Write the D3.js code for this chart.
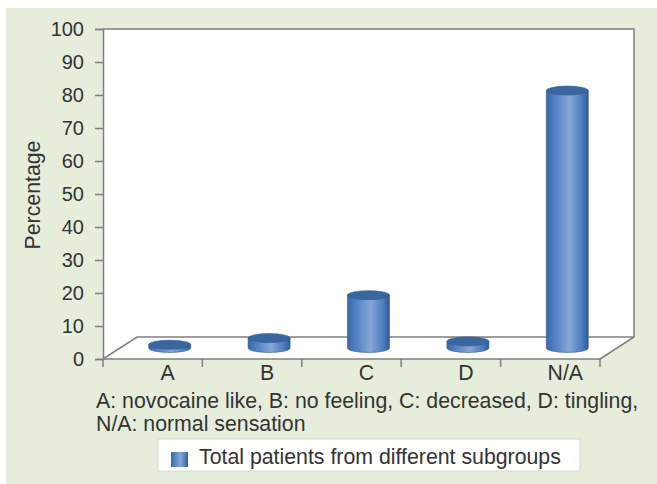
<!DOCTYPE html>
<html>
<head>
<meta charset="utf-8">
<script src="https://cdn.jsdelivr.net/npm/d3@7"></script>
<style>
  html, body { margin: 0; padding: 0; background: #ffffff; }
  svg { display: block; }
  text { font-family: "Liberation Sans", Arial, sans-serif; fill: #333; }
</style>
</head>
<body>
<svg id="chart" width="657" height="484"></svg>
<script>
// Sensation categories and their share of patients (%)
const categories = ["A", "B", "C", "D", "N/A"];
const values = [1, 3, 16, 2, 78];
const yTicks = [0, 10, 20, 30, 40, 50, 60, 70, 80, 90, 100];
const seriesName = "Total patients from different subgroups";
const captionLines = [
  "A: novocaine like, B: no feeling, C: decreased, D: tingling,",
  "N/A: normal sensation"
];

const svg = d3.select("#chart");
const W = 657, H = 484;
const fs = 21.3, tickFs = 20;

// panel background
svg.append("rect").attr("x", 6).attr("y", 8).attr("width", W - 6).attr("height", H - 8)
  .attr("fill", "#e6eedb");

// plot geometry (front-left origin, 3D depth offset)
const plotL = 103, plotR = 600, plotB = 359, plotT = 29;
const dx = 34, dy = 22;

const y = d3.scaleLinear().domain([0, 100]).range([plotB, plotT]);
const x = d3.scaleBand().domain(categories).range([plotL, plotR]);

// walls and floor
const wall = [[plotL, plotT], [plotR + dx, plotT], [plotR + dx, plotB - dy], [plotR, plotB], [plotL, plotB]];
svg.append("path").attr("d", d3.line()(wall) + "Z").attr("fill", "#ffffff");

const lineCol = "#7f7f7f";
svg.append("path")
  .attr("d", d3.line()([[plotL, plotT], [plotR + dx, plotT], [plotR + dx, plotB - dy], [plotR, plotB]]))
  .attr("fill", "none").attr("stroke", lineCol).attr("stroke-width", 1.5);
svg.append("path")
  .attr("d", d3.line()([[plotL, plotB], [plotL + dx, plotB - dy], [plotR + dx, plotB - dy]]))
  .attr("fill", "none").attr("stroke", lineCol).attr("stroke-width", 1.5);

// y axis
const yAxis = d3.axisLeft(y).tickValues(yTicks).tickSize(8).tickPadding(11);
const gy = svg.append("g").attr("transform", `translate(${plotL},0)`).call(yAxis);
gy.select(".domain").attr("stroke", lineCol).attr("stroke-width", 1.5);
gy.selectAll(".tick line").attr("stroke", lineCol).attr("stroke-width", 1.5);
gy.selectAll(".tick text").attr("font-size", tickFs).attr("fill", "#333")
  .style("font-family", "Liberation Sans, Arial, sans-serif");

// x axis (front edge of floor with ticks between categories)
const gx = svg.append("g").attr("transform", `translate(0,${plotB})`);
gx.append("line").attr("x1", plotL).attr("x2", plotR).attr("stroke", lineCol).attr("stroke-width", 1.5);
const bounds = categories.map(c => x(c)).concat([plotR]);
gx.selectAll("line.tk").data(bounds).join("line").attr("class", "tk")
  .attr("x1", d => d).attr("x2", d => d).attr("y1", 0).attr("y2", 8)
  .attr("stroke", lineCol).attr("stroke-width", 1.5);
gx.selectAll("text").data(categories).join("text")
  .attr("x", d => x(d) + x.bandwidth() / 2 + 15)
  .attr("y", 21)
  .attr("text-anchor", "middle").attr("font-size", fs)
  .text(d => d);

// y title
svg.append("text")
  .attr("transform", "translate(40,195) rotate(-90)")
  .attr("text-anchor", "middle").attr("font-size", fs)
  .text("Percentage");

// cylinder gradient
const defs = svg.append("defs");
const grad = defs.append("linearGradient").attr("id", "cyl").attr("x1", 0).attr("x2", 1).attr("y1", 0).attr("y2", 0);
[[0, "#3a66a6"], [0.15, "#4a7ac0"], [0.55, "#86a7d6"], [0.85, "#4b7bbf"], [1, "#2f5a96"]]
  .forEach(([o, c]) => grad.append("stop").attr("offset", o).attr("stop-color", c));

const rx = 21, ry = 4.5;
const bars = svg.append("g");
categories.forEach((c, i) => {
  const cx = x(c) + x.bandwidth() / 2 + dx / 2;
  const yb = y(0) - dy / 2;
  const yt = y(values[i]) - dy / 2;
  const g = bars.append("g");
  // body
  g.append("path")
    .attr("d", `M${cx - rx},${yt} L${cx - rx},${yb} A${rx},${ry} 0 0 0 ${cx + rx},${yb} L${cx + rx},${yt} Z`)
    .attr("fill", "url(#cyl)").attr("stroke", "#34609c").attr("stroke-width", 0.6);
  // top cap
  g.append("ellipse").attr("cx", cx).attr("cy", yt).attr("rx", rx).attr("ry", ry)
    .attr("fill", "#3b679f").attr("stroke", "#2f5a90").attr("stroke-width", 0.6);
});

// caption
const cap = svg.append("g");
captionLines.forEach((t, i) => {
  cap.append("text").attr("x", 96).attr("y", 408 + i * 23).attr("font-size", fs).text(t);
});

// legend
const lg = svg.append("g");
lg.append("rect").attr("x", 158).attr("y", 439).attr("width", 422).attr("height", 32)
  .attr("fill", "#ffffff").attr("stroke", "#d4d8d0").attr("stroke-width", 1);
lg.append("rect").attr("x", 171).attr("y", 452).attr("width", 17).attr("height", 15)
  .attr("fill", "url(#cyl)");
lg.append("text").attr("x", 199).attr("y", 464).attr("font-size", fs).text(seriesName);
</script>
</body>
</html>
